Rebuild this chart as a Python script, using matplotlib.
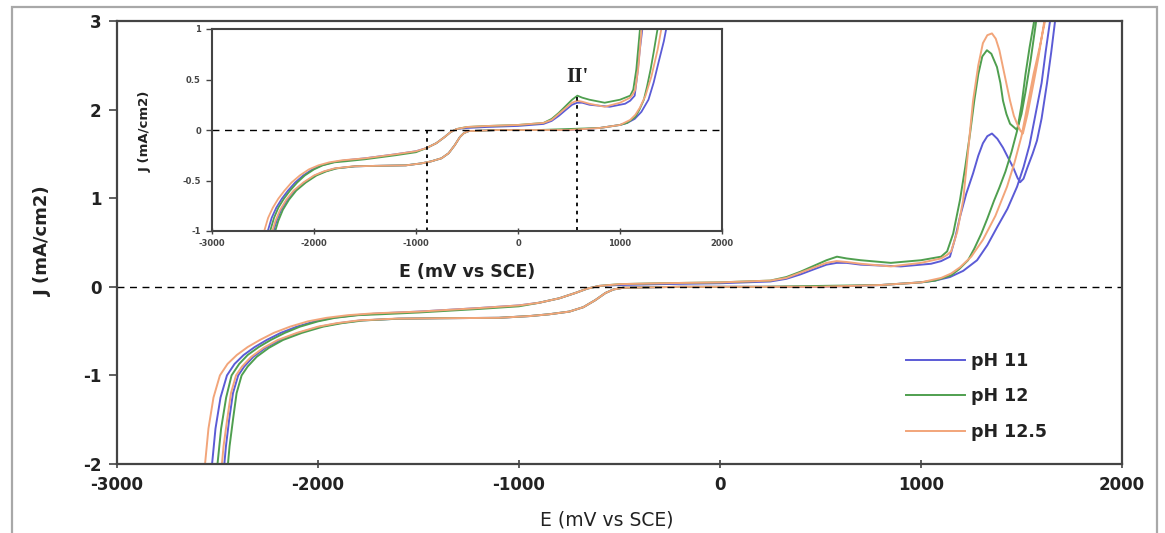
import matplotlib
matplotlib.use("Agg")
import matplotlib.pyplot as plt
from matplotlib.patches import Rectangle

# ---------------- data: (E in mV vs SCE, J in mA/cm2) ----------------
series_labels = ["pH 11", "pH 12", "pH 12.5"]
series_colors = ["#5b5bd6", "#4f9f4f", "#f2a57a"]

ph11_points = [
    (-2545, -2.2), (-2527, -2.0), (-2510, -1.6), (-2485, -1.25), (-2453, -1.0),
    (-2415, -0.87), (-2370, -0.77), (-2315, -0.68), (-2255, -0.60), (-2185, -0.52),
    (-2105, -0.45), (-2015, -0.39), (-1925, -0.35), (-1815, -0.32), (-1695, -0.30),
    (-1500, -0.28), (-1200, -0.24), (-1000, -0.21), (-900, -0.18), (-800, -0.13),
    (-720, -0.07), (-660, -0.02), (-600, 0.01), (-500, 0.02), (-300, 0.03), (0, 0.04),
    (250, 0.06), (330, 0.09), (400, 0.14), (470, 0.20), (530, 0.25), (580, 0.27),
    (630, 0.27), (700, 0.25), (900, 0.23), (1050, 0.26), (1100, 0.29), (1144, 0.34),
    (1170, 0.55), (1194, 0.79), (1225, 1.05), (1259, 1.28), (1285, 1.48), (1308, 1.62),
    (1330, 1.70), (1353, 1.73), (1380, 1.67), (1408, 1.57), (1435, 1.45), (1458, 1.35),
    (1480, 1.23), (1493, 1.18), (1510, 1.22), (1530, 1.35), (1555, 1.50), (1577, 1.65),
    (1600, 1.90), (1627, 2.30), (1648, 2.65), (1667, 3.0), (1685, 3.3),
    (1675, 3.3), (1642, 3.0), (1620, 2.65), (1600, 2.3), (1570, 1.95), (1540, 1.6),
    (1510, 1.35), (1478, 1.13), (1430, 0.88), (1378, 0.67), (1330, 0.47), (1279, 0.30),
    (1210, 0.18), (1144, 0.11), (1070, 0.07), (1000, 0.05), (800, 0.02), (500, 0.0),
    (200, 0.0), (-200, 0.0), (-450, -0.01), (-480, -0.01), (-530, -0.03), (-570, -0.07),
    (-620, -0.15), (-680, -0.23), (-750, -0.28), (-850, -0.31), (-945, -0.33),
    (-1100, -0.35), (-1400, -0.355), (-1600, -0.36), (-1790, -0.38), (-1895, -0.41),
    (-1990, -0.45), (-2095, -0.52), (-2190, -0.60), (-2262, -0.69), (-2322, -0.79),
    (-2367, -0.90), (-2397, -1.0), (-2423, -1.2), (-2442, -1.5), (-2458, -1.8),
    (-2466, -2.0), (-2472, -2.2),
]

ph12_points = [
    (-2515, -2.2), (-2500, -2.0), (-2482, -1.6), (-2457, -1.25), (-2430, -1.0),
    (-2392, -0.87), (-2350, -0.77), (-2295, -0.68), (-2235, -0.60), (-2165, -0.52),
    (-2090, -0.45), (-2000, -0.39), (-1915, -0.35), (-1800, -0.32), (-1690, -0.31),
    (-1500, -0.29), (-1200, -0.25), (-1000, -0.22), (-900, -0.18), (-800, -0.13),
    (-720, -0.07), (-660, -0.02), (-600, 0.01), (-500, 0.03), (-300, 0.04), (0, 0.05),
    (250, 0.07), (330, 0.11), (400, 0.17), (470, 0.24), (530, 0.30), (582, 0.34),
    (630, 0.32), (700, 0.30), (850, 0.27), (1000, 0.30), (1100, 0.34), (1130, 0.40),
    (1160, 0.60), (1194, 0.98), (1220, 1.35), (1244, 1.73), (1265, 2.10), (1285, 2.40),
    (1305, 2.60), (1328, 2.67), (1350, 2.63), (1378, 2.48), (1395, 2.30), (1408, 2.10),
    (1425, 1.95), (1443, 1.84), (1478, 1.77), (1500, 1.95), (1520, 2.20), (1545, 2.55),
    (1570, 2.95), (1590, 3.3),
    (1600, 3.3), (1563, 3.0), (1540, 2.7), (1520, 2.4), (1500, 2.05), (1478, 1.76),
    (1450, 1.52), (1420, 1.30), (1390, 1.12), (1363, 0.97), (1330, 0.77), (1300, 0.60),
    (1265, 0.43), (1234, 0.30), (1190, 0.20), (1150, 0.13), (1070, 0.07), (1000, 0.05),
    (800, 0.02), (500, 0.01), (200, 0.0), (-200, 0.0), (-450, -0.01), (-480, -0.01),
    (-530, -0.03), (-570, -0.07), (-620, -0.15), (-680, -0.23), (-750, -0.28),
    (-850, -0.31), (-945, -0.33), (-1100, -0.35), (-1400, -0.355), (-1600, -0.36),
    (-1776, -0.38), (-1880, -0.41), (-1975, -0.45), (-2080, -0.52), (-2174, -0.60),
    (-2245, -0.69), (-2305, -0.79), (-2350, -0.90), (-2380, -1.0), (-2405, -1.2),
    (-2423, -1.5), (-2440, -1.8), (-2448, -2.0), (-2456, -2.2),
]

ph125_points = [
    (-2575, -2.2), (-2562, -2.0), (-2545, -1.6), (-2520, -1.25), (-2488, -1.0),
    (-2450, -0.87), (-2404, -0.77), (-2350, -0.68), (-2289, -0.60), (-2220, -0.52),
    (-2139, -0.45), (-2050, -0.39), (-1957, -0.35), (-1850, -0.32), (-1726, -0.30),
    (-1500, -0.28), (-1200, -0.24), (-1000, -0.21), (-900, -0.18), (-800, -0.13),
    (-720, -0.07), (-660, -0.02), (-600, 0.01), (-500, 0.03), (-300, 0.04), (0, 0.05),
    (250, 0.07), (330, 0.10), (400, 0.16), (470, 0.22), (530, 0.27), (580, 0.29),
    (630, 0.28), (700, 0.26), (850, 0.23), (1000, 0.27), (1100, 0.32), (1130, 0.36),
    (1150, 0.40), (1180, 0.62), (1210, 0.98), (1235, 1.55), (1259, 2.10), (1285, 2.50),
    (1308, 2.75), (1330, 2.84), (1353, 2.86), (1372, 2.80), (1390, 2.67), (1415, 2.40),
    (1443, 2.10), (1462, 1.93), (1478, 1.84), (1495, 1.76), (1507, 1.73), (1530, 1.95),
    (1560, 2.30), (1585, 2.60), (1610, 2.95), (1635, 3.3),
    (1645, 3.3), (1617, 3.0), (1590, 2.7), (1560, 2.4), (1530, 2.05), (1500, 1.7),
    (1465, 1.4), (1428, 1.13), (1370, 0.80), (1308, 0.53), (1250, 0.34), (1194, 0.22),
    (1150, 0.15), (1100, 0.10), (1000, 0.05), (800, 0.02), (500, 0.0), (200, 0.0),
    (-200, 0.0), (-450, -0.01), (-480, -0.01), (-530, -0.03), (-570, -0.07),
    (-620, -0.15), (-680, -0.23), (-750, -0.28), (-850, -0.31), (-945, -0.33),
    (-1100, -0.35), (-1400, -0.355), (-1620, -0.36), (-1800, -0.38), (-1905, -0.41),
    (-2000, -0.45), (-2105, -0.52), (-2200, -0.60), (-2272, -0.69), (-2332, -0.79),
    (-2378, -0.90), (-2408, -1.0), (-2433, -1.2), (-2452, -1.5), (-2470, -1.8),
    (-2478, -2.0), (-2486, -2.2),
]

series_points = [ph11_points, ph12_points, ph125_points]

main_xticks = [-3000, -2000, -1000, 0, 1000, 2000]
main_yticks = [-2, -1, 0, 1, 2, 3]
inset_xticks = [-3000, -2000, -1000, 0, 1000, 2000]
inset_yticks = [-1, -0.5, 0, 0.5, 1]
inset_ytick_labels = ["-1", "-0.5", "0", "0.5", "1"]
inset_marker_E = [-890, 580]
inset_marker_Jtop = [0.0, 0.33]

# ---------------- figure ----------------
W, H = 1165, 533
fig = plt.figure(figsize=(W / 100, H / 100), dpi=100)

def fx(px):
    return px / W

def fy(py):
    return 1 - py / H

# outer frame
fig.patches.append(Rectangle((fx(12), fy(545)), fx(1157) - fx(12), fy(7) - fy(545),
                             transform=fig.transFigure, fill=False,
                             edgecolor="#a8a8a8", lw=1.6))

spine_col = "#444444"
ax = fig.add_axes([fx(117), fy(464), fx(1122) - fx(117), fy(21) - fy(464)])
for pts, c, lab in zip(series_points, series_colors, series_labels):
    E = [p[0] for p in pts]
    J = [p[1] for p in pts]
    ax.plot(E, J, color=c, lw=1.4, label=lab, solid_joinstyle="round")
ax.axhline(0, color="black", lw=1.0, ls=(0, (5, 4)))
ax.set_xlim(-3000, 2000)
ax.set_ylim(-2, 3)
ax.set_xticks(main_xticks)
ax.set_yticks(main_yticks)
ax.set_xticklabels([str(t) for t in main_xticks])
ax.set_yticklabels([str(t) for t in main_yticks])
for s in ax.spines.values():
    s.set_color(spine_col)
    s.set_linewidth(1.6)
ax.tick_params(axis="x", direction="inout", length=6, width=1.2, pad=6,
               colors=spine_col, labelcolor="#222222")
ax.tick_params(axis="y", direction="out", length=6, width=1.2, pad=5,
               colors=spine_col, labelcolor="#222222")
for t in ax.get_xticklabels() + ax.get_yticklabels():
    t.set_fontfamily("DejaVu Sans")
    t.set_fontweight("bold")
    t.set_fontsize(12)

fig.text(fx(43), fy(241), "J (mA/cm2)", rotation=90, ha="center", va="center",
         fontsize=13, fontweight="bold", color="#222222")
fig.text(fx(607), fy(520), "E (mV vs SCE)", ha="center", va="center",
         fontsize=13.5, color="#222222")

leg = ax.legend(loc="upper left", bbox_to_anchor=(fx(906), fy(352)),
                bbox_transform=fig.transFigure, frameon=False, handlelength=3.4,
                handletextpad=0.35, labelspacing=1.0, borderpad=0, borderaxespad=0,
                prop={"family": "DejaVu Sans", "weight": "bold", "size": 12.5})
for t in leg.get_texts():
    t.set_color("#222222")

# ---------------- inset ----------------
ins = fig.add_axes([fx(212), fy(231), fx(722) - fx(212), fy(29) - fy(231)])
for pts, c in zip(series_points, series_colors):
    E = [p[0] for p in pts]
    J = [p[1] for p in pts]
    ins.plot(E, J, color=c, lw=1.3, solid_joinstyle="round")
ins.axhline(0, color="black", lw=1.0, ls=(0, (5, 4)))
for e, jt in zip(inset_marker_E, inset_marker_Jtop):
    ins.plot([e, e], [jt, -1], color="black", lw=1.3, ls=(0, (2, 2.5)))
ins.text(583, 0.52, "II'", ha="center", va="center", fontsize=15,
         family="Liberation Serif", fontweight="bold", color="#222222")
ins.set_xlim(-3000, 2000)
ins.set_ylim(-1, 1)
ins.set_xticks(inset_xticks)
ins.set_yticks(inset_yticks)
ins.set_xticklabels([str(t) for t in inset_xticks])
ins.set_yticklabels(inset_ytick_labels)
for s in ins.spines.values():
    s.set_color(spine_col)
    s.set_linewidth(1.5)
ins.tick_params(axis="x", direction="inout", length=4, width=1.0, pad=4,
                colors=spine_col, labelcolor="#444444", labelsize=6)
ins.tick_params(axis="y", direction="out", length=4, width=1.0, pad=4,
                colors=spine_col, labelcolor="#444444", labelsize=6)
for t in ins.get_xticklabels() + ins.get_yticklabels():
    t.set_fontweight("bold")

fig.text(fx(467), fy(272), "E (mV vs SCE)", ha="center", va="center",
         fontsize=12.5, fontweight="bold", color="#222222")
fig.text(fx(145), fy(131), "J (mA/cm2)", rotation=90, ha="center", va="center",
         fontsize=9.5, fontweight="bold", color="#222222")

fig.savefig("out.png", dpi=100)
